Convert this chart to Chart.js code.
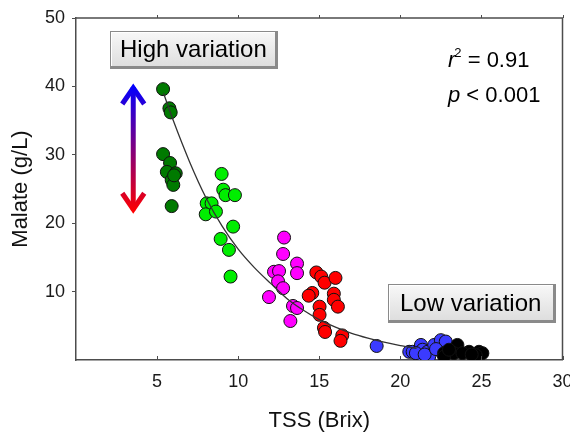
<!DOCTYPE html>
<html><head><meta charset="utf-8">
<script src="https://cdn.jsdelivr.net/npm/chart.js@4.4.1/dist/chart.umd.min.js"></script>
<style>html,body{margin:0;padding:0;background:#fff}#wrap{width:570px;height:434px;position:relative}</style>
</head><body><div id="wrap"><canvas id="c" width="570" height="434"></canvas></div>
<script>
// ---- data ----
const xTicks = [5, 10, 15, 20, 25, 30];
const yTicks = [10, 20, 30, 40, 50];

const darkGreenX = [5.37, 5.76, 5.84, 5.37, 5.80, 5.60, 6.15, 5.90, 6.00, 6.05, 5.90];
const darkGreenY = [39.6, 36.8, 36.2, 30.1, 28.8, 27.5, 27.3, 26.3, 25.6, 27.0, 22.5];

const limeX = [8.98, 9.08, 9.22, 9.80, 8.06, 8.36, 8.00, 8.63, 9.69, 8.92, 9.43, 9.53];
const limeY = [27.2, 24.9, 24.1, 24.1, 22.9, 22.9, 21.3, 21.7, 19.5, 17.7, 16.1, 12.2];

const magentaX = [12.83, 12.77, 13.63, 13.63, 12.21, 12.52, 12.46, 12.77, 11.90, 13.38, 13.63, 13.22];
const magentaY = [17.9, 15.5, 14.1, 12.7, 12.9, 13.0, 11.5, 10.5, 9.2, 7.9, 7.6, 5.7];

const redX = [14.82, 15.12, 15.33, 16.00, 14.57, 14.35, 15.90, 15.90, 16.15, 15.02, 15.02, 15.29, 15.36, 16.42, 16.31];
const redY = [12.8, 12.2, 11.3, 12.0, 9.8, 9.4, 9.7, 8.8, 7.8, 7.8, 6.6, 4.7, 4.1, 3.6, 2.8];

const blueX = [18.54, 20.55, 20.76, 21.27, 21.37, 21.68, 22.09, 22.50, 22.80, 21.17, 21.78, 22.60, 20.96, 21.50, 22.20];
const blueY = [2.05, 1.2, 1.2, 2.2, 1.5, 1.2, 2.2, 2.9, 2.7, 0.5, 0.5, 1.0, 1.0, 0.8, 1.6];

const blackX = [23.52, 22.70, 23.30, 24.24, 24.85, 25.06, 23.83, 22.70, 24.65, 23.00, 24.40];
const blackY = [2.2, 1.0, 1.0, 1.2, 1.2, 1.0, 1.0, 0.5, 0.7, 1.5, 0.8];

// fitted curve
const fitX = [5.4, 6, 7, 8, 9, 10, 11, 12, 13, 14, 15, 16, 17, 18, 19, 20, 21];
const fitY = [39.0, 35.0, 29.0, 23.8, 19.6, 16.2, 13.5, 11.2, 9.0, 7.3, 5.9, 4.8, 3.9, 3.2, 2.6, 2.1, 1.7];

const FONT = '"Liberation Sans", Arial, sans-serif';
const pts = (xs, ys) => xs.map((v, i) => ({x: v, y: ys[i]}));

function scatterSet(label, xs, ys, color) {
  return {
    type: 'scatter', label, data: pts(xs, ys),
    backgroundColor: color, borderColor: '#111', borderWidth: 1,
    pointRadius: 6.5, pointHoverRadius: 6.5, clip: 0
  };
}

function bevelBox(ctx, cx, cy, w, h, text) {
  const l = Math.round(cx - w / 2), t = Math.round(cy - h / 2);
  ctx.fillStyle = '#8a8a8a';
  ctx.fillRect(l, t, w, h);
  ctx.fillStyle = '#ffffff';
  ctx.fillRect(l + 1, t + 1, w - 4, h - 4);
  const g = ctx.createLinearGradient(0, t + 2, 0, t + h - 3);
  g.addColorStop(0, '#f7f7f7');
  g.addColorStop(1, '#dedede');
  ctx.fillStyle = g;
  ctx.fillRect(l + 2, t + 2, w - 5, h - 5);
  ctx.fillStyle = '#000';
  ctx.font = '24px ' + FONT;
  ctx.textAlign = 'center';
  ctx.textBaseline = 'middle';
  ctx.fillText(text, cx - 1, cy);
}

const decor = {
  id: 'decor',
  afterDatasetsDraw(chart) {
    const {ctx, chartArea: a, scales: {x, y}} = chart;
    ctx.save();
    // frame top/right
    ctx.strokeStyle = '#4d4d4d';
    ctx.lineWidth = 1.5;
    ctx.beginPath();
    ctx.moveTo(a.left, a.top); ctx.lineTo(a.right, a.top); ctx.lineTo(a.right, a.bottom);
    ctx.stroke();
    // x ticks (inward at bottom, small at top)
    ctx.lineWidth = 1;
    xTicks.forEach(v => {
      const px = Math.round(x.getPixelForValue(v)) + 0.5;
      ctx.beginPath();
      ctx.moveTo(px, a.bottom); ctx.lineTo(px, a.bottom - 4);
      ctx.moveTo(px, a.top); ctx.lineTo(px, a.top - 3);
      ctx.stroke();
    });
    // gradient double arrow
    const ax = x.getPixelForValue(3.53), ay1 = y.getPixelForValue(40.2), ay2 = y.getPixelForValue(21.6);
    const gr = ctx.createLinearGradient(0, ay1, 0, ay2);
    gr.addColorStop(0, '#0000ff'); gr.addColorStop(1, '#ff0000');
    ctx.strokeStyle = gr; ctx.lineWidth = 5; ctx.lineCap = 'butt'; ctx.lineJoin = 'miter';
    ctx.beginPath(); ctx.moveTo(ax, ay1 + 2); ctx.lineTo(ax, ay2 - 2); ctx.stroke();
    ctx.beginPath();
    ctx.moveTo(ax - 11, ay1 + 19); ctx.lineTo(ax, ay1 + 3); ctx.lineTo(ax + 11, ay1 + 19);
    ctx.moveTo(ax - 11, ay2 - 19); ctx.lineTo(ax, ay2 - 3); ctx.lineTo(ax + 11, ay2 - 19);
    ctx.stroke();
    // labelled boxes
    bevelBox(ctx, x.getPixelForValue(7.3), y.getPixelForValue(45.3), 168, 38, 'High variation');
    bevelBox(ctx, x.getPixelForValue(24.4), y.getPixelForValue(8.2), 168, 39, 'Low variation');
    // statistics
    ctx.fillStyle = '#000'; ctx.textAlign = 'left'; ctx.textBaseline = 'alphabetic';
    let tx = 448, ty = 67;
    ctx.font = 'italic 22px ' + FONT; ctx.fillText('r', tx, ty); tx += ctx.measureText('r').width;
    ctx.font = '13px ' + FONT; ctx.fillText('2', tx - 1, ty - 10); tx += ctx.measureText('2').width - 1;
    ctx.font = '22px ' + FONT; ctx.fillText(' = 0.91', tx, ty);
    tx = 448; ty = 102;
    ctx.font = 'italic 22px ' + FONT; ctx.fillText('p', tx, ty); tx += ctx.measureText('p').width;
    ctx.font = '22px ' + FONT; ctx.fillText(' < 0.001', tx, ty);
    ctx.restore();
  }
};

new Chart(document.getElementById('c'), {
  type: 'scatter',
  data: {
    datasets: [
      {type: 'line', label: 'fit', data: pts(fitX, fitY), borderColor: '#333', borderWidth: 1.3,
       pointRadius: 0, fill: false, tension: 0.4, cubicInterpolationMode: 'monotone', clip: 0},
      scatterSet('black', blackX, blackY, '#000000'),
      scatterSet('blue', blueX, blueY, '#3b3bff'),
      scatterSet('red', redX, redY, '#ff0000'),
      scatterSet('magenta', magentaX, magentaY, '#ff00ff'),
      scatterSet('lime', limeX, limeY, '#00ee00'),
      scatterSet('darkgreen', darkGreenX, darkGreenY, '#007a00')
    ]
  },
  options: {
    responsive: false, animation: false, devicePixelRatio: 1,
    layout: {padding: {top: 18, right: 6, left: 0, bottom: 0}},
    plugins: {legend: {display: false}, tooltip: {enabled: false}},
    scales: {
      x: {
        type: 'linear', min: 0, max: 30,
        afterBuildTicks: s => { s.ticks = xTicks.map(v => ({value: v})); },
        afterFit: s => { s.height = 74; s.paddingLeft = 0; s.paddingRight = 0; },
        grid: {display: true, drawOnChartArea: false, drawTicks: false},
        border: {display: true, color: '#4d4d4d', width: 1.5},
        ticks: {padding: 11, color: '#1a1a1a', font: {family: FONT, size: 18}, maxRotation: 0},
        title: {display: true, text: 'TSS (Brix)', color: '#111', font: {family: FONT, size: 22}, padding: {top: 0, bottom: 0}}
      },
      y: {
        type: 'linear', min: 0, max: 50,
        afterBuildTicks: s => { s.ticks = yTicks.map(v => ({value: v})); },
        afterFit: s => { s.width = 76; s.paddingTop = 0; s.paddingBottom = 0; },
        grid: {display: true, drawOnChartArea: false, drawTicks: true, tickLength: 4, color: '#4d4d4d'},
        border: {display: true, color: '#4d4d4d', width: 1.5},
        ticks: {padding: 7, color: '#1a1a1a', font: {family: FONT, size: 18}},
        title: {display: true, text: 'Malate (g/L)', color: '#111', font: {family: FONT, size: 22}, padding: {top: 8, bottom: 0}}
      }
    }
  },
  plugins: [decor]
});
</script></body></html>
